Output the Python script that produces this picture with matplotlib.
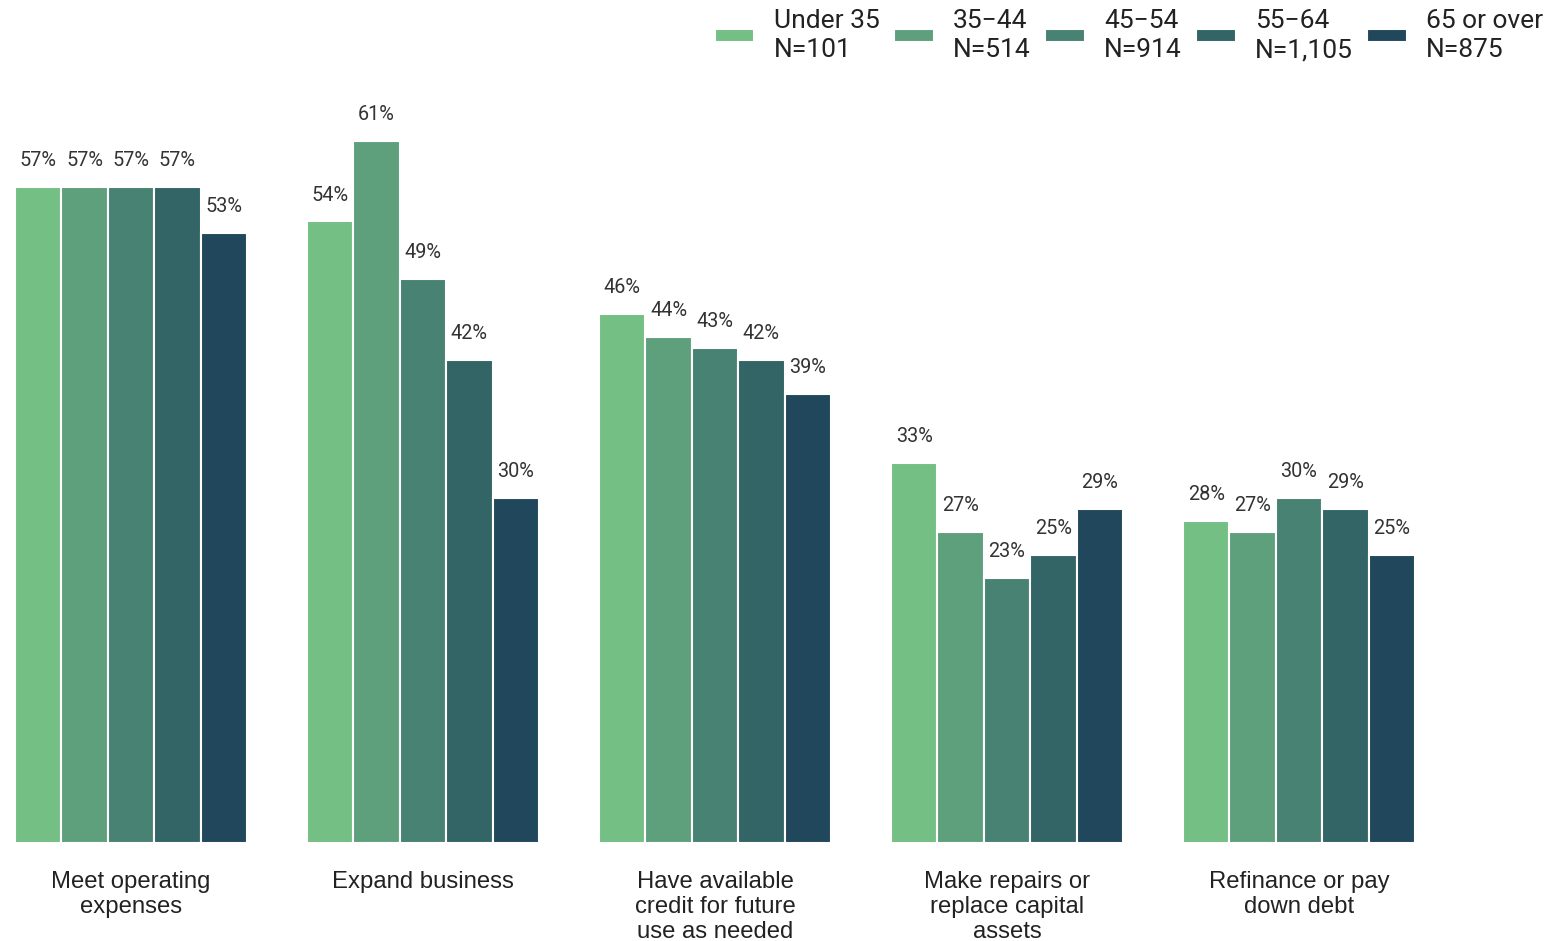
import matplotlib
matplotlib.use("Agg")
import matplotlib.pyplot as plt
import numpy as np

categories = ["Meet operating\nexpenses", "Expand business", "Have available\ncredit for future\nuse as needed",
              "Make repairs or\nreplace capital\nassets", "Refinance or pay\ndown debt"]
series_names = ["Under 35\nN=101", "35\u221244\nN=514", "45\u221254\nN=914", "55\u221264\nN=1,105", "65 or over\nN=875"]
values = {
    "Under 35": [57, 54, 46, 33, 28],
    "35-44": [57, 61, 44, 27, 27],
    "45-54": [57, 49, 43, 23, 30],
    "55-64": [57, 42, 42, 25, 29],
    "65 or over": [53, 30, 39, 29, 25],
}
colors = ["#74BF84", "#5EA07B", "#488272", "#336567", "#21475C"]

W, H = 1550, 941
fig = plt.figure(figsize=(W / 100, H / 100), dpi=100)
ax = fig.add_axes([0, (H - 843) / H, 1, (843 - 80) / H])

x = np.arange(len(categories))
bw = 0.159
keys = list(values.keys())
for i, k in enumerate(keys):
    offs = (i - 2) * bw
    ax.bar(x + offs, values[k], width=bw, color=colors[i], edgecolor="white",
           linewidth=1.5, label=series_names[i])
    for xi, v in zip(x + offs, values[k]):
        ax.annotate(f"{v}%", (xi, v), xytext=(0, 19), textcoords="offset points",
                    ha="center", va="center", fontsize=14.3, family="Roboto", color="#333333")

ax.set_xlim((0 - 131) / 292, (1550 - 131) / 292)
ax.set_ylim(0, (843 - 80) / 11.51)
ax.set_xticks(x)
ax.set_xticklabels(categories, family="Liberation Sans", fontsize=17.2, color="#222222",
                   linespacing=1.17)
ax.tick_params(axis="x", length=0, pad=20)
ax.set_yticks([])
for s in ax.spines.values():
    s.set_visible(False)

leg = fig.legend(loc="upper right", bbox_to_anchor=(1550 / 1550, 1 - 2 / 941), ncol=5, frameon=False,
                 prop={"family": "Roboto", "size": 19}, handlelength=1.5, handleheight=0.4,
                 columnspacing=0.55, handletextpad=0.73, borderaxespad=0.05, borderpad=0.2)
for t in leg.get_texts():
    t.set_color("#222222")
    t.set_multialignment("left")
    t.set_linespacing(1.3)

fig.savefig("out.png", dpi=100)
